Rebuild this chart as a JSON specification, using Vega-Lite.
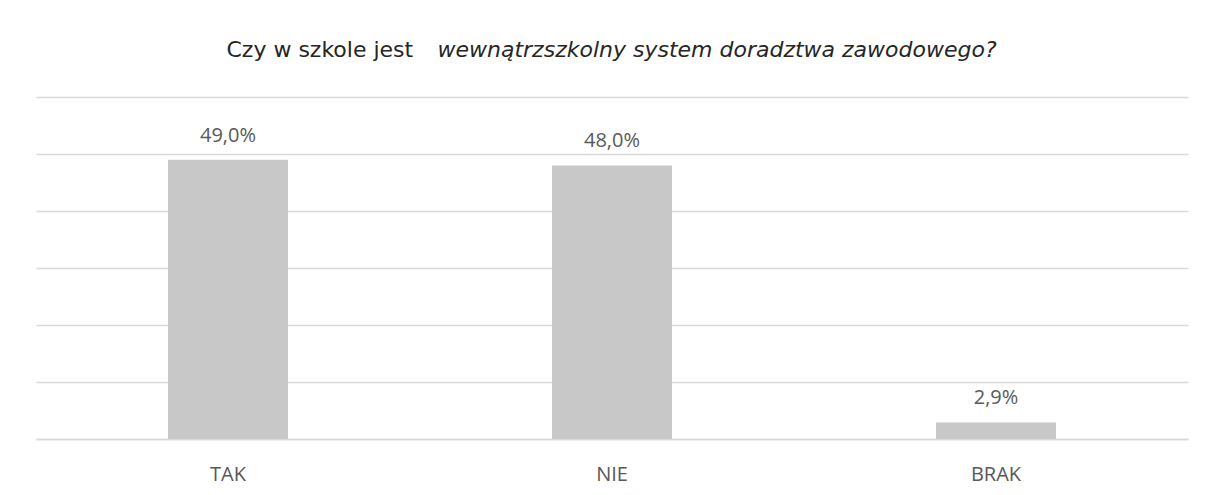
{
  "$schema": "https://vega.github.io/schema/vega-lite/v6.json",
  "width": 1152,
  "height": 342,
  "autosize": {"type": "none"},
  "padding": {"left": 36, "right": 17, "top": 97, "bottom": 56},
  "background": "white",
  "data": {
    "values": [
      {"kategoria": "TAK", "wartosc": 49.0, "etykieta": "49,0%"},
      {"kategoria": "NIE", "wartosc": 48.0, "etykieta": "48,0%"},
      {"kategoria": "BRAK", "wartosc": 2.9, "etykieta": "2,9%"}
    ]
  },
  "encoding": {
    "x": {
      "field": "kategoria",
      "type": "nominal",
      "sort": null,
      "scale": {"paddingInner": 0, "paddingOuter": 0},
      "axis": {
        "title": "Czy w szkole jest",
        "titleX": 190,
        "titleY": -383,
        "titleAlign": "left",
        "titleBaseline": "alphabetic",
        "titleFont": "DejaVu Sans",
        "titleFontWeight": "normal",
        "titleFontSize": 22,
        "titleColor": "#262626",
        "labelAngle": 0,
        "ticks": false,
        "domain": true,
        "domainColor": "#d9d9d9",
        "domainWidth": 1.5,
        "labelFont": "Open Sans",
        "labelFontSize": 20,
        "labelColor": "#595959",
        "labelBaseline": "alphabetic",
        "labelPadding": 41
      }
    },
    "y": {
      "field": "wartosc",
      "type": "quantitative",
      "scale": {"domain": [0, 60], "nice": false},
      "axis": {
        "values": [0, 10, 20, 30, 40, 50, 60],
        "labels": false,
        "ticks": false,
        "domain": false,
        "grid": true,
        "gridColor": "#d9d9d9",
        "gridWidth": 1.5,
        "title": "wewnątrzszkolny system doradztwa zawodowego?",
        "titleAngle": 0,
        "titleX": 401,
        "titleY": -41,
        "titleAlign": "left",
        "titleBaseline": "alphabetic",
        "titleFont": "DejaVu Sans",
        "titleFontStyle": "italic",
        "titleFontWeight": "normal",
        "titleFontSize": 22,
        "titleColor": "#262626"
      }
    }
  },
  "layer": [
    {
      "mark": {"type": "bar", "color": "#c8c8c8", "width": {"band": 0.3125}}
    },
    {
      "mark": {
        "type": "text",
        "baseline": "alphabetic",
        "dy": -18,
        "font": "Open Sans",
        "fontSize": 20,
        "color": "#595959"
      },
      "encoding": {"text": {"field": "etykieta"}}
    }
  ],
  "config": {"view": {"stroke": null}}
}
